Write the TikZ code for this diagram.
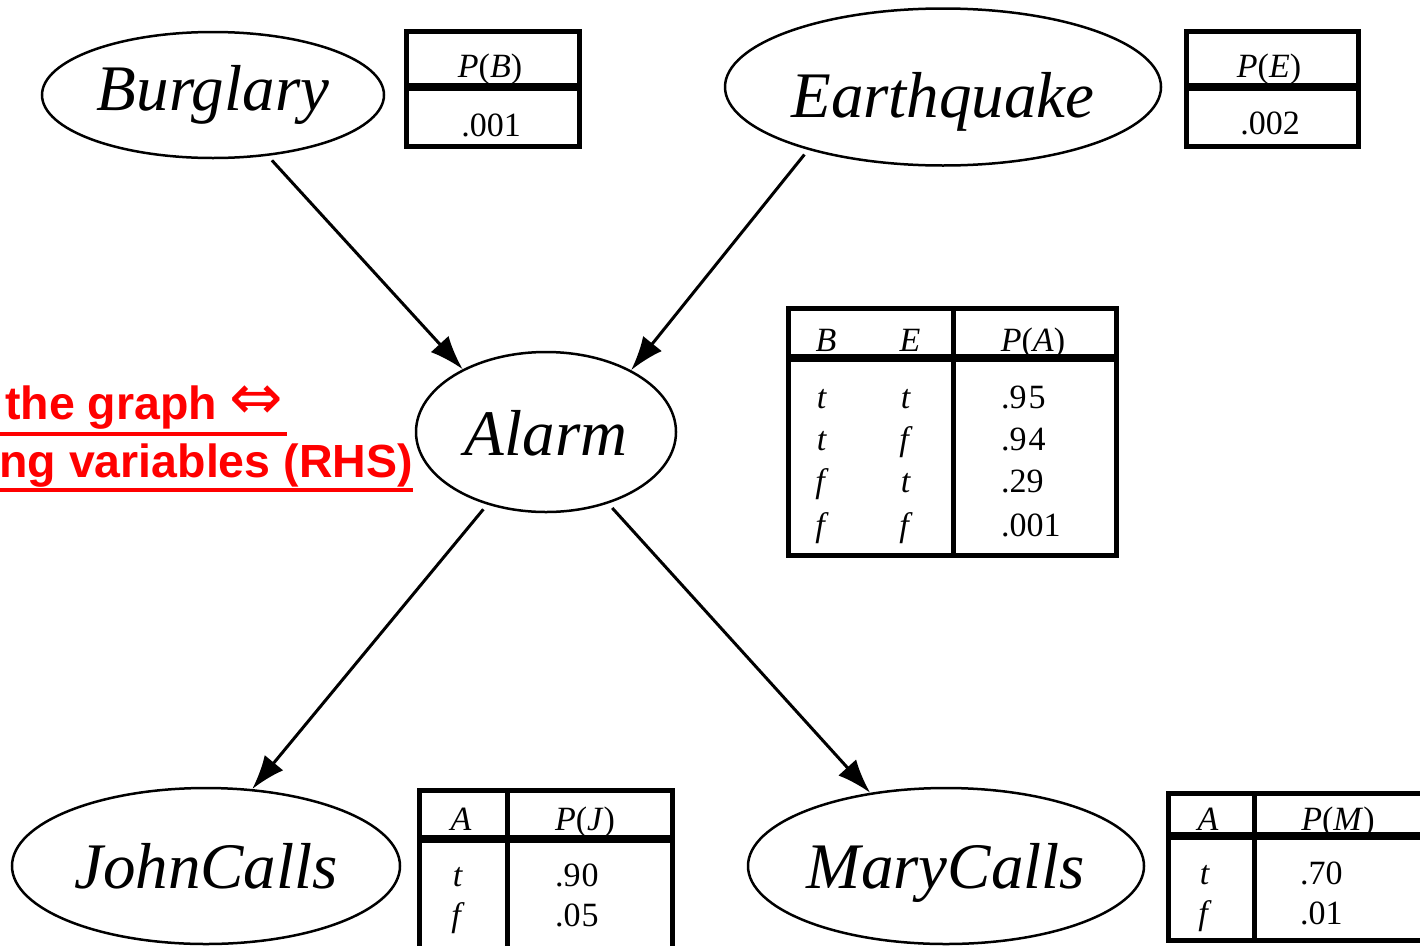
\documentclass[tikz,border=0pt]{standalone}
\usepackage{fontspec}
\setmainfont{Liberation Serif}
\newfontfamily\arialfont{Liberation Sans}
\newfontfamily\symfont{DejaVu Sans}
\usetikzlibrary{shapes.geometric,arrows.meta}
\tikzset{
  var/.style={ellipse,draw,line width=2.5pt,inner sep=0pt,text depth=0pt,
    font=\fontsize{65}{70}\selectfont\itshape},
  tab/.style={inner sep=0pt,font=\fontsize{34}{38}\selectfont},
  tabbox/.style={line width=5pt},
  tabsep/.style={line width=8pt},
  edge/.style={line width=3pt,-{Latex[length=34pt,width=24pt]},shorten <=6pt},
  red note/.style={inner sep=0pt,text=red,font=\arialfont\bfseries\fontsize{46.5}{54}\selectfont},
  uline/.style={red,line width=4pt}
}
\begin{document}
\begin{tikzpicture}[x=1pt,y=-1pt]
\useasboundingbox (0,0) rectangle (1420,945);
\clip (0,0) rectangle (1420,945);

% variables
\node[var,text height=30pt,minimum width=342pt,minimum height=126pt] (B) at (213,95) {Burglary};
\node[var,text height=60pt,minimum width=436pt,minimum height=157pt] (E) at (943,87) {Earthquake};
\node[var,text height=46pt,minimum width=260pt,minimum height=160pt] (A) at (546,432) {Alarm};
\node[var,text height=44pt,minimum width=388pt,minimum height=156pt] (J) at (206,866) {JohnCalls};
\node[var,text height=44pt,minimum width=396pt,minimum height=156pt] (M) at (946,866) {MaryCalls};

% edges
\draw[edge] (B.-48) -- (A.143);
\draw[edge] (E.-155) -- (A.36);
\draw[edge] (A.-129) -- (J.59);
\draw[edge] (A.-49) -- (M.136);

% P(B)
\draw[tabbox] (406,31) rectangle (579,146);
\draw[tabsep] (406,87) -- (579,87);
\node[tab,anchor=base] (pbh) at (490,77) {\textit{P}(\textit{B})};
\node[tab,anchor=base] (pbv) at (491,136) {.001};

% P(E)
\draw[tabbox] (1186,31) rectangle (1358,146);
\draw[tabsep] (1186,87) -- (1358,87);
\node[tab,anchor=base] (peh) at (1269,77) {\textit{P}(\textit{E})};
\node[tab,anchor=base] (pev) at (1270,134) {.002};

% P(A)
\draw[tabbox] (788,308) rectangle (1116,555);
\draw[tabsep] (788,358) -- (1116,358);
\draw[tabbox] (953,308) -- (953,555);
\node[tab,anchor=base] (ahB) at (826,351) {\textit{B}};
\node[tab,anchor=base] (ahE) at (910,351) {\textit{E}};
\node[tab,anchor=base] (ahP) at (1033,351) {\textit{P}(\textit{A})};
\node[tab,anchor=base] (a1b) at (822,408) {\textit{t}};
\node[tab,anchor=base] (a1e) at (906,408) {\textit{t}};
\node[tab,anchor=base west] (a1v) at (1001,408) {.9\kern2pt5};
\node[tab,anchor=base] (a2b) at (822,450) {\textit{t}};
\node[tab,anchor=base] (a2e) at (906,450) {\textit{f}};
\node[tab,anchor=base west] (a2v) at (1001,450) {.9\kern2pt4};
\node[tab,anchor=base] (a3b) at (822,492) {\textit{f}};
\node[tab,anchor=base] (a3e) at (906,492) {\textit{t}};
\node[tab,anchor=base west] (a3v) at (1001,492) {.29};
\node[tab,anchor=base] (a4b) at (822,536) {\textit{f}};
\node[tab,anchor=base] (a4e) at (906,536) {\textit{f}};
\node[tab,anchor=base west] (a4v) at (1001,536) {.001};

% P(J)
\draw[tabbox] (419,790) rectangle (672,960);
\draw[tabsep] (419,839) -- (672,839);
\draw[tabbox] (507,790) -- (507,960);
\node[tab,anchor=base] (jh1) at (461,830) {\textit{A}};
\node[tab,anchor=base] (jh2) at (585,830) {\textit{P}(\textit{J})};
\node[tab,anchor=base] (j1a) at (458,886) {\textit{t}};
\node[tab,anchor=base west] (j1v) at (555,886) {.9\kern1pt0};
\node[tab,anchor=base] (j2a) at (458,926) {\textit{f}};
\node[tab,anchor=base west] (j2v) at (555,926) {.0\kern1pt5};

% P(M)
\draw[tabbox] (1168,793) rectangle (1425,940);
\draw[tabsep] (1168,836) -- (1425,836);
\draw[tabbox] (1254,793) -- (1254,940);
\node[tab,anchor=base] (mh1) at (1208,830) {\textit{A}};
\node[tab,anchor=base] (mh2) at (1338,830) {\textit{P}(\textit{M})};
\node[tab,anchor=base] (m1a) at (1205,884) {\textit{t}};
\node[tab,anchor=base west] (m1v) at (1300,884) {.70};
\node[tab,anchor=base] (m2a) at (1205,924) {\textit{f}};
\node[tab,anchor=base west] (m2v) at (1300,924) {.01};

% red note
\node[red note,anchor=base west] (r1) at (5,419) {the graph\kern12pt{\symfont\mdseries\fontsize{64}{64}\selectfont\char"21D4}};
\node[red note,anchor=base east] (r2) at (413,477) {ng variables (RHS)};
\draw[uline] (0,434) -- (287,434);
\draw[uline] (0,490) -- (413,490);
\end{tikzpicture}
\end{document}
